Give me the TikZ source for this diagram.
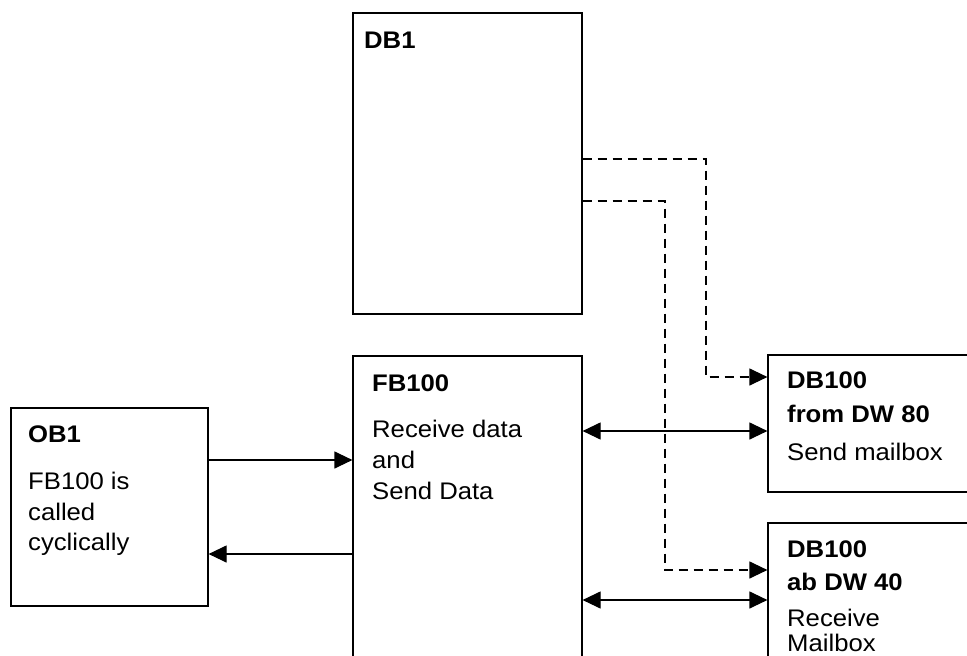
\documentclass[tikz,border=0pt]{standalone}
\usepackage{fontspec}
\setmainfont{Liberation Sans}[FakeStretch=1.07]
\usetikzlibrary{arrows.meta}
\begin{document}
\begin{tikzpicture}[x=1pt,y=-1pt,
  box/.style={draw,line width=1.2pt,inner sep=0pt},
  lbl/.style={anchor=base west,inner sep=0pt,font=\fontsize{24}{28}\selectfont},
  blbl/.style={lbl,font=\fontsize{24}{28}\selectfont\bfseries},
  tip/.style={-{Triangle[length=18pt,width=17pt]}},
  both/.style={{Triangle[length=18pt,width=17pt]}-{Triangle[length=18pt,width=17pt]}},
  conn/.style={line width=1.2pt},
  dashconn/.style={conn,dash pattern=on 9pt off 6pt}]
\useasboundingbox (0,0) rectangle (967,656);
\clip (0,0) rectangle (967,656);
% boxes
\node[box,minimum width=229pt,minimum height=301pt] (db1) at (467.5,163.5) {};
\node[box,minimum width=229pt,minimum height=360pt] (fb) at (467.5,536) {};
\node[box,minimum width=197pt,minimum height=198pt] (ob) at (109.5,507) {};
\node[box,minimum width=240pt,minimum height=137pt] (dba) at (888,423.5) {};
\node[box,minimum width=240pt,minimum height=180pt] (dbb) at (888,613) {};
% texts
\node[blbl] (t1) at (364,48) {DB1};
\node[blbl] (t2) at (372,391) {FB100};
\node[lbl] (t3) at (372,437) {Receive data};
\node[lbl] (t4) at (372,468) {and};
\node[lbl] (t5) at (372,499) {Send Data};
\node[blbl] (t6) at (28,442) {OB1};
\node[lbl] (t7) at (28,489) {FB100 is};
\node[lbl] (t8) at (28,520) {called};
\node[lbl] (t9) at (28,550) {cyclically};
\node[blbl] (t10) at (787,388) {DB100};
\node[blbl] (t11) at (787,422) {from DW 80};
\node[lbl] (t12) at (787,460) {Send mailbox};
\node[blbl] (t13) at (787,557) {DB100};
\node[blbl] (t14) at (787,590) {ab DW 40};
\node[lbl] (t15) at (787,626) {Receive};
\node[lbl] (t16) at (787,651) {Mailbox};
% levels
\coordinate (y1) at (0,460);
\coordinate (y2) at (0,554);
\coordinate (y3) at (0,431);
\coordinate (y4) at (0,600);
\coordinate (da) at (706,159);
\coordinate (dae) at (706,377);
\coordinate (db) at (665,201);
\coordinate (dbe) at (665,570);
% connectors
\draw[conn,tip] (ob.east |- y1) -- (fb.west |- y1);
\draw[conn,tip] (fb.west |- y2) -- (ob.east |- y2);
\draw[conn,both] (fb.east |- y3) -- (dba.west |- y3);
\draw[conn,both] (fb.east |- y4) -- (dbb.west |- y4);
\draw[dashconn,tip] (db1.east |- da) -- (da) -- (dae) -- (dba.west |- dae);
\draw[dashconn,tip] (db1.east |- db) -- (db) -- (dbe) -- (dbb.west |- dbe);
\end{tikzpicture}
\end{document}
